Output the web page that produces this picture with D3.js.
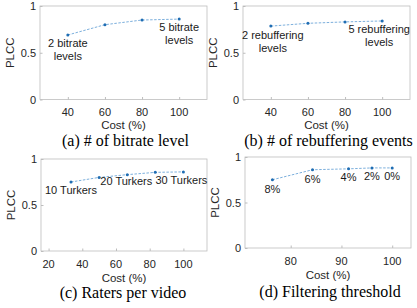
<!DOCTYPE html>
<html>
<head>
<meta charset="utf-8">
<script src="https://cdn.jsdelivr.net/npm/d3@7"></script>
<style>
	body { margin: 0; background: #fff; }
	svg { display: block; }
	.tick-label { font-family: "Liberation Sans", Arial, sans-serif; font-size: 11px; fill: #262626; }
	.axis-title { font-family: "Liberation Sans", Arial, sans-serif; font-size: 11.5px; fill: #262626; }
	.note { font-family: "Liberation Sans", Arial, sans-serif; font-size: 11px; fill: #1a1a1a; }
	.caption { font-family: "Liberation Serif", "Times New Roman", serif; font-size: 16px; fill: #000; }
</style>
</head>
<body>
<div id="chart"></div>
<script>
// (a) # of bitrate level
const costA = [40, 60, 80, 100];
const plccA = [0.69, 0.80, 0.85, 0.86];
const ticksA = [40, 60, 80, 100];

// (b) # of rebuffering events
const costB = [40, 60, 80, 100];
const plccB = [0.785, 0.815, 0.83, 0.84];
const ticksB = [40, 60, 80, 100];

// (c) raters per video
const costC = [33.3, 50, 66.7, 83.3, 100];
const plccC = [0.75, 0.80, 0.83, 0.855, 0.86];
const ticksC = [20, 40, 60, 80, 100];

// (d) filtering threshold
const costD = [76.4, 84.3, 91.4, 96.0, 100];
const plccD = [0.75, 0.86, 0.87, 0.88, 0.88];
const ticksD = [80, 90, 100];

const yTicks = [0, 0.5, 1];

// annotation texts and which point they belong to
const notesA = [{ i: 0, lines: ["2 bitrate", "levels"] }, { i: 3, lines: ["5 bitrate", "levels"] }];
const notesB = [{ i: 0, lines: ["2 rebuffering", "levels"] }, { i: 3, lines: ["5 rebuffering", "levels"] }];
const notesC = [{ i: 0, lines: ["10 Turkers"] }, { i: 2, lines: ["20 Turkers"] }, { i: 4, lines: ["30 Turkers"] }];
const notesD = [{ i: 0, lines: ["8%"] }, { i: 1, lines: ["6%"] }, { i: 2, lines: ["4%"] }, { i: 3, lines: ["2%"] }, { i: 4, lines: ["0%"] }];

const captions = ["(a) # of bitrate level", "(b) # of rebuffering events", "(c) Raters per video", "(d) Filtering threshold"];

const svg = d3.select("#chart")
	.append("svg")
	.attr("width", 417)
	.attr("height", 308);

function drawPanel(p) {
	const x = d3.scaleLinear().domain(p.xDomain).range([p.left, p.right]);
	const y = d3.scaleLinear().domain([0, 1]).range([p.bottom, p.top]);
	const g = svg.append("g");

	// frame
	g.append("rect")
		.attr("x", p.left)
		.attr("y", p.top)
		.attr("width", p.right - p.left)
		.attr("height", p.bottom - p.top)
		.attr("fill", "none")
		.attr("stroke", "#bdbdbd")
		.attr("stroke-width", 0.8);

	// x ticks (inward, MATLAB style)
	const xAxis = d3.axisTop(x).tickValues(p.xTicks).tickSize(2.5).tickFormat("");
	g.append("g")
		.attr("transform", `translate(0,${p.bottom})`)
		.call(xAxis)
		.call(s => s.select(".domain").remove())
		.call(s => s.selectAll("line").attr("stroke", "#bdbdbd"));

	g.selectAll(".xlab")
		.data(p.xTicks)
		.enter()
		.append("text")
		.attr("class", "tick-label")
		.attr("x", d => x(d))
		.attr("y", p.bottom + 16.5)
		.attr("text-anchor", "middle")
		.text(d => d);

	const yAxis = d3.axisRight(y).tickValues(yTicks).tickSize(2.5).tickFormat("");
	g.append("g")
		.attr("transform", `translate(${p.left},0)`)
		.call(yAxis)
		.call(s => s.select(".domain").remove())
		.call(s => s.selectAll("line").attr("stroke", "#bdbdbd"));

	g.selectAll(".ylab")
		.data(yTicks)
		.enter()
		.append("text")
		.attr("class", "tick-label")
		.attr("x", p.left - 4)
		.attr("y", d => y(d) + 4)
		.attr("text-anchor", "end")
		.text(d => d);

	g.append("text")
		.attr("class", "axis-title")
		.attr("x", (p.left + p.right) / 2)
		.attr("y", p.bottom + p.costDy)
		.attr("text-anchor", "middle")
		.text("Cost (%)");

	g.append("text")
		.attr("class", "axis-title")
		.attr("transform", `translate(${p.left - 26},${(p.top + p.bottom) / 2}) rotate(-90)`)
		.attr("text-anchor", "middle")
		.text("PLCC");

	g.append("text")
		.attr("class", "caption")
		.attr("x", (p.left + p.right) / 2 + p.captionDx)
		.attr("y", p.captionY)
		.attr("text-anchor", "middle")
		.text(p.caption);

	const pts = p.cost.map((c, i) => ({ c: c, v: p.plcc[i] }));

	const line = d3.line().x(d => x(d.c)).y(d => y(d.v));
	g.append("path")
		.datum(pts)
		.attr("d", line)
		.attr("fill", "none")
		.attr("stroke", "#5a9bd3")
		.attr("stroke-width", 0.8)
		.attr("stroke-dasharray", "2.5,1.5");

	g.selectAll(".pt")
		.data(pts)
		.enter()
		.append("circle")
		.attr("cx", d => x(d.c))
		.attr("cy", d => y(d.v))
		.attr("r", 1.5)
		.attr("fill", "#1f6db3");

	p.notes.forEach((n, k) => {
		const off = p.noteOffsets[k];
		const t = g.append("text")
			.attr("class", "note")
			.attr("text-anchor", "middle");
		n.lines.forEach((ln, j) => {
			t.append("tspan")
				.attr("x", x(p.cost[n.i]) + off[0])
				.attr("y", y(p.plcc[n.i]) + off[1] + j * 13)
				.text(ln);
		});
	});
}

drawPanel({
	left: 40, right: 207, top: 6, bottom: 99.5, xDomain: [25, 115], xTicks: ticksA,
	cost: costA, plcc: plccA, notes: notesA, noteOffsets: [[0, 12.5], [0, 11.5]],
	costDy: 29, caption: captions[0], captionDx: 2, captionY: 145.5
});
drawPanel({
	left: 243, right: 410, top: 6, bottom: 99.5, xDomain: [25, 115], xTicks: ticksB,
	cost: costB, plcc: plccB, notes: notesB, noteOffsets: [[2, 13], [-3, 12]],
	costDy: 29, caption: captions[1], captionDx: 2, captionY: 145.5
});
drawPanel({
	left: 41, right: 207, top: 159, bottom: 251, xDomain: [15.5, 114], xTicks: ticksC,
	cost: costC, plcc: plccC, notes: notesC, noteOffsets: [[0, 12.3], [-1, 10.7], [-2, 12.3]],
	costDy: 31, caption: captions[2], captionDx: -1, captionY: 298
});
drawPanel({
	left: 245, right: 411, top: 157, bottom: 248, xDomain: [71, 103.7], xTicks: ticksD,
	cost: costD, plcc: plccD, notes: notesD, noteOffsets: [[0, 13.3], [0, 13.7], [0, 12], [0, 12], [0, 12]],
	costDy: 31, caption: captions[3], captionDx: 2, captionY: 297
});
</script>
</body>
</html>
